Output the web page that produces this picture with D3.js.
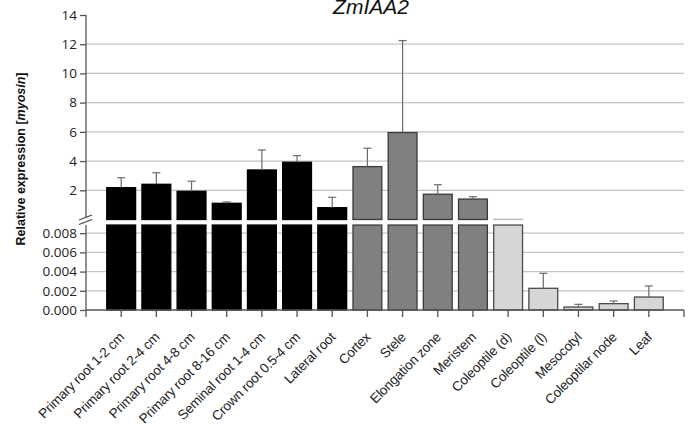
<!DOCTYPE html>
<html><head><meta charset="utf-8">
<script src="https://cdn.jsdelivr.net/npm/d3@7/dist/d3.min.js"></script>
<style>body{margin:0;background:#fff}svg{display:block}</style>
</head><body>
<svg id="c" width="694" height="430"></svg>
<script>
const categories = ["Primary root 1-2 cm","Primary root 2-4 cm","Primary root 4-8 cm","Primary root 8-16 cm","Seminal root 1-4 cm","Crown root 0.5-4 cm","Lateral root","Cortex","Stele","Elongation zone","Meristem","Coleoptile (d)","Coleoptile (l)","Mesocotyl","Coleoptilar node","Leaf"];
const values = [2.18, 2.41, 1.93, 1.11, 3.39, 3.92, 0.81, 3.62, 5.95, 1.73, 1.40, 0.02, 0.00226, 0.00031, 0.00066, 0.00135];
const errors = [0.68, 0.79, 0.69, 0.09, 1.37, 0.45, 0.71, 1.26, 6.30, 0.65, 0.16, 0, 0.00156, 0.00028, 0.00028, 0.00115];
const groups = ["root","root","root","root","root","root","root","tissue","tissue","tissue","tissue","shoot","shoot","shoot","shoot","shoot"];
const topTicks = [2, 4, 6, 8, 10, 12, 14];
const bottomTicks = [0.000, 0.002, 0.004, 0.006, 0.008];

const fills = {root:"#000000", tissue:"#808080", shoot:"#d6d6d6"};
const strokes = {root:"#000000", tissue:"#3a3a3a", shoot:"#4a4a4a"};

const svg = d3.select("#c");
const x0 = 86, x1 = 684;
const step = (x1 - x0) / (categories.length + 1);
const x = d3.scaleBand().domain(categories).range([x0 + step/2, x1 - step/2]).paddingInner(0.18).paddingOuter(0.09);

const yTop = d3.scaleLinear().domain([0, 14]).range([219.5, 15]);
const bottomMax = 0.00885;
const yBot = d3.scaleLinear().domain([0, 0.002]).range([310, 290.8]);

// gridlines
svg.append("g").selectAll("line").data(topTicks.filter(d => d < 14)).join("line")
  .attr("x1", x0).attr("x2", x1).attr("y1", d => yTop(d)).attr("y2", d => yTop(d))
  .attr("stroke", "#c4c4c4").attr("stroke-width", 1.3);
svg.append("g").selectAll("line").data(bottomTicks.filter(d => d > 0)).join("line")
  .attr("x1", x0).attr("x2", x1).attr("y1", d => yBot(d)).attr("y2", d => yBot(d))
  .attr("stroke", "#c4c4c4").attr("stroke-width", 1.3);

const data = categories.map((c, i) => ({c, v: values[i], e: errors[i], g: groups[i]}));

// bottom section bars
svg.append("g").selectAll("rect").data(data).join("rect")
  .attr("x", d => x(d.c)).attr("width", x.bandwidth())
  .attr("y", d => yBot(Math.min(d.v, bottomMax)))
  .attr("height", d => yBot(0) - yBot(Math.min(d.v, bottomMax)))
  .attr("fill", d => fills[d.g]).attr("stroke", d => strokes[d.g]).attr("stroke-width", 1.3);

// top section bars
const topData = data.filter(d => d.v > bottomMax);
svg.append("g").selectAll("rect").data(topData).join("rect")
  .attr("x", d => x(d.c)).attr("width", x.bandwidth())
  .attr("y", d => yTop(d.v))
  .attr("height", d => Math.max(0, yTop(0) - yTop(d.v)))
  .attr("fill", d => fills[d.g])
  .attr("stroke", d => d.g === "shoot" ? "#bdbdbd" : strokes[d.g]).attr("stroke-width", 1.3);

// error bars
const errData = data.filter(d => d.e > 0);
const ey = d => d.v > bottomMax ? yTop : yBot;
const eb = svg.append("g").attr("stroke", "#6a6a6a").attr("stroke-width", 1.2);
eb.selectAll("line.v").data(errData).join("line").attr("class","v")
  .attr("x1", d => x(d.c) + x.bandwidth()/2).attr("x2", d => x(d.c) + x.bandwidth()/2)
  .attr("y1", d => ey(d)(d.v)).attr("y2", d => ey(d)(d.v + d.e));
eb.selectAll("line.h").data(errData).join("line").attr("class","h")
  .attr("x1", d => x(d.c) + x.bandwidth()/2 - 4).attr("x2", d => x(d.c) + x.bandwidth()/2 + 4)
  .attr("y1", d => ey(d)(d.v + d.e)).attr("y2", d => ey(d)(d.v + d.e));

// y axes
const axisColor = "#555";
const gTop = svg.append("g").attr("transform", `translate(${x0},0)`)
  .call(d3.axisLeft(yTop).tickValues(topTicks).tickSize(6).tickSizeOuter(0));
gTop.select(".domain").remove();
gTop.append("line").attr("x1",0).attr("x2",0).attr("y1", yTop(14)).attr("y2", 217.5).attr("stroke", axisColor).attr("stroke-width",1.3);
const gBot = svg.append("g").attr("transform", `translate(${x0},0)`)
  .call(d3.axisLeft(yBot).tickValues(bottomTicks).tickFormat(d3.format(".3f")).tickSize(6).tickSizeOuter(0));
gBot.select(".domain").remove();
gBot.append("line").attr("x1",0).attr("x2",0).attr("y1", 225).attr("y2", 310).attr("stroke", axisColor).attr("stroke-width",1.3);
[gTop, gBot].forEach(g => {
  g.selectAll(".tick line").attr("stroke", axisColor).attr("stroke-width", 1.3);
  g.selectAll(".tick text").attr("font-family", "'Open Sans', sans-serif").attr("font-size", 13.5).attr("fill", "#222").attr("x", -9);
});

// break marks
const br = svg.append("g").attr("stroke", "#444").attr("stroke-width", 1.2);
br.append("line").attr("x1", x0-7).attr("y1", 220).attr("x2", x0+6).attr("y2", 215);
br.append("line").attr("x1", x0-7).attr("y1", 224.5).attr("x2", x0+6).attr("y2", 219.5);

// x axis
const gx = svg.append("g").attr("transform", "translate(0,310)")
  .call(d3.axisBottom(x).tickSize(7).tickSizeOuter(0));
gx.select(".domain").remove();
gx.append("line").attr("x1", x0).attr("x2", x1).attr("stroke", axisColor).attr("stroke-width", 1.3);
gx.selectAll(".extra").data([x0, x1]).join("line").attr("class","extra")
  .attr("x1", d => d).attr("x2", d => d).attr("y1", 0).attr("y2", 7).attr("stroke", axisColor).attr("stroke-width", 1.3);
gx.selectAll(".tick line").attr("stroke", axisColor).attr("stroke-width", 1.3);
gx.selectAll(".tick text")
  .attr("font-family", "'Liberation Sans', Arial, sans-serif").attr("font-size", 13.5).attr("fill", "#222")
  .attr("letter-spacing", -0.2)
  .attr("text-anchor", "end").attr("dy", null).attr("y", 0)
  .attr("transform", "translate(4,28) rotate(-45)");

// y label
svg.append("text").attr("transform", "translate(25,159) rotate(-90)")
  .attr("text-anchor", "middle").attr("font-family", "'Liberation Sans', Arial, sans-serif")
  .attr("font-size", 12.5).attr("font-weight", "bold").attr("fill", "#111")
  .call(t => { t.append("tspan").text("Relative expression ["); t.append("tspan").attr("font-style","italic").text("myosin"); t.append("tspan").text("]"); });

// title
svg.append("text").attr("x", 371).attr("y", 14).attr("text-anchor", "middle")
  .attr("font-family", "'Liberation Sans', Arial, sans-serif").attr("font-size", 21)
  .attr("font-style", "italic").attr("fill", "#111").text("ZmIAA2");
</script>
</body></html>
